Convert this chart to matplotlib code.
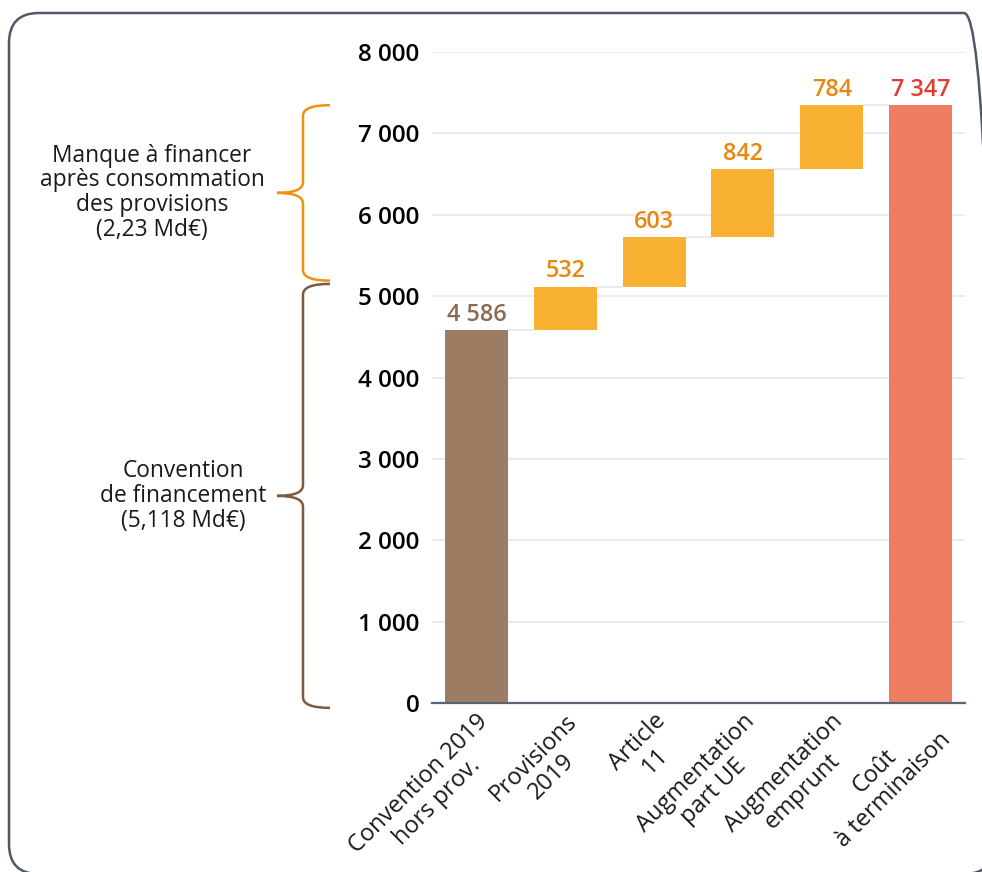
import numpy as np
import matplotlib.pyplot as plt
import matplotlib.transforms as mtransforms
from matplotlib.path import Path
from matplotlib.patches import PathPatch, FancyBboxPatch

# Data (millions d'euros)
categories = ["Convention 2019\nhors prov.", "Provisions\n2019", "Article\n11",
              "Augmentation\npart UE", "Augmentation\nemprunt", "Coût\nà terminaison"]
base_value = 4586
step_values = [532, 603, 842, 784]
total_value = 7347
y_ticks = [0, 1000, 2000, 3000, 4000, 5000, 6000, 7000, 8000]

brace_labels = ["Manque à financer\naprès consommation\ndes provisions\n(2,23 Md€)",
                "Convention\nde financement\n(5,118 Md€)"]

# Colours
BROWN = "#9c7d63"
ORANGE = "#f8b132"
RED = "#ef7d62"
BROWN_TXT = "#8a6a50"
ORANGE_TXT = "#e8870c"
RED_TXT = "#e33b2f"
GRID = "#e6e7ea"

plt.rcParams['font.family'] = ['Open Sans', 'DejaVu Sans']

W, H = 982, 872
fig = plt.figure(figsize=(W / 100, H / 100), dpi=100)
ax = fig.add_axes([432 / W, 1 - 703 / H, (965 - 432) / W, (703 - 52) / H])


def fx(px):
    """pixel x -> figure fraction"""
    return px / W


# Rounded frame around the whole graphic
frame = FancyBboxPatch((9, -2), 985, 861, boxstyle="round,pad=0,rounding_size=30",
                       transform=mtransforms.IdentityTransform(),
                       facecolor="none", edgecolor="#4f5768", linewidth=1.8)
fig.patches.append(frame)

# Waterfall bars
width = 0.71
x = np.arange(len(categories))
starts = base_value + np.concatenate([[0], np.cumsum(step_values)[:-1]])
levels = np.concatenate([[base_value], base_value + np.cumsum(step_values)])

ax.bar(x[0], base_value, width=width, color=BROWN, zorder=3)
ax.bar(x[1:5], step_values, bottom=starts, width=width, color=ORANGE, zorder=3)
ax.bar(x[5], total_value, width=width, color=RED, zorder=3)

# Connectors between bars
for i, lev in enumerate(levels):
    ax.hlines(lev, x[i] + width / 2, x[i + 1] - width / 2, color=GRID,
              linewidth=1.2, zorder=2)

# Value labels
def fmt(v):
    return f"{v:,}".replace(",", " ")

lab_kw = dict(ha='center', va='bottom', fontsize=16.8, fontweight='semibold')
ax.text(x[0], base_value + 35, fmt(base_value), color=BROWN_TXT, **lab_kw)
for i, v in enumerate(step_values):
    ax.text(x[i + 1], starts[i] + v + 40, fmt(v), color=ORANGE_TXT, **lab_kw)
ax.text(x[5], total_value + 40, fmt(total_value), color=RED_TXT, **lab_kw)

# Axes styling
ax.set_xlim(-0.5, 5.5)
ax.set_ylim(0, 8000)
ax.set_yticks(y_ticks)
ax.set_yticklabels([fmt(t) for t in y_ticks], fontsize=17.5, fontweight='semibold')
ax.set_xticks(x)
ax.set_xticklabels([])
ax.tick_params(axis='y', length=0, pad=9)
ax.tick_params(axis='x', length=0)
ax.grid(axis='y', color=GRID, linewidth=1.2)
ax.set_axisbelow(True)
for side in ['top', 'right', 'left']:
    ax.spines[side].set_visible(False)
ax.spines['bottom'].set_color("#5c6473")
ax.spines['bottom'].set_linewidth(1.6)
ax.spines['bottom'].set_zorder(4)

# Rotated category labels, anchored slightly right of each bar centre
shift = mtransforms.ScaledTranslation(17 / 100, -24 / 100, fig.dpi_scale_trans)
xlab_tr = ax.get_xaxis_transform() + shift
for xi, cat in zip(x, categories):
    ax.text(xi, 0, cat, transform=xlab_tr, rotation=45, ha='right', va='center',
            rotation_mode='anchor', multialignment='center', fontsize=17,
            linespacing=1.12, color="#1a1a1a", clip_on=False)

# Curly braces on the left
blend = mtransforms.blended_transform_factory(fig.transFigure, ax.transData)


def draw_brace(y0, y1, color):
    xl, xe, xt = fx(303), fx(330), fx(277)
    ry = 130
    ym = (y0 + y1) / 2
    verts = [(xe, y1), (xl, y1), (xl, y1 - ry),
             (xl, ym + ry),
             (xl, ym), (xt, ym),
             (xl, ym), (xl, ym - ry),
             (xl, y0 + ry),
             (xl, y0), (xe, y0)]
    codes = [Path.MOVETO, Path.CURVE3, Path.CURVE3,
             Path.LINETO,
             Path.CURVE3, Path.CURVE3,
             Path.CURVE3, Path.CURVE3,
             Path.LINETO,
             Path.CURVE3, Path.CURVE3]
    patch = PathPatch(Path(verts, codes), transform=blend, facecolor='none',
                      edgecolor=color, linewidth=1.8, clip_on=False)
    ax.add_patch(patch)
    return ym


ym1 = draw_brace(5190, 7347, "#f0920f")
ym2 = draw_brace(-60, 5150, "#7b5b43")

txt_kw = dict(transform=blend, ha='center', va='center', fontsize=16.4,
              linespacing=1.05, color="#1a1a1a")
ax.text(fx(152), ym1, brace_labels[0], **txt_kw)
ax.text(fx(183), ym2, brace_labels[1], **txt_kw)

fig.savefig("out.png", dpi=100)
